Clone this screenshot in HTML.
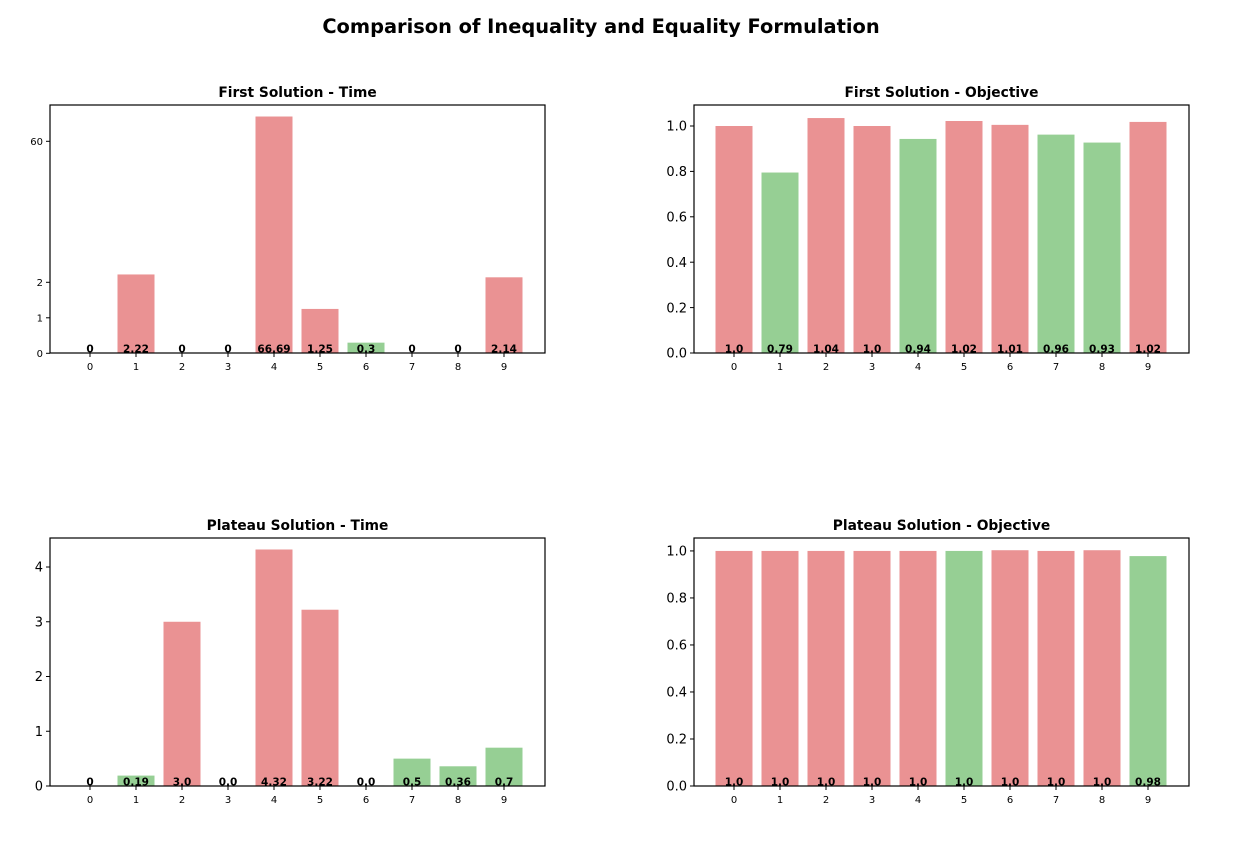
<!DOCTYPE html>
<html><head><meta charset="utf-8"><style>
body{margin:0;background:#fff;}
svg{display:block;font-family:"DejaVu Sans","Liberation Sans",sans-serif;}
</style></head><body>
<svg id="fig" width="1244" height="851">
<text x="601" y="33" text-anchor="middle" font-size="19.4" font-weight="bold">Comparison of Inequality and Equality Formulation</text>
</svg>
<script>
const categories = [0,1,2,3,4,5,6,7,8,9];
const tlValues = [0,2.22,0,0,66.69,1.25,0.3,0,0,2.14];
const tlLabels = ["0","2.22","0","0","66.69","1.25","0.3","0","0","2.14"];
const tlGreen = [0,0,0,0,0,0,1,0,0,0];
const trValues = [1.0,0.795,1.035,1.0,0.943,1.022,1.005,0.962,0.927,1.018];
const trLabels = ["1.0","0.79","1.04","1.0","0.94","1.02","1.01","0.96","0.93","1.02"];
const trGreen = [0,1,0,0,1,0,0,1,1,0];
const blValues = [0,0.19,3.0,0.0,4.32,3.22,0.01,0.5,0.36,0.7];
const blLabels = ["0","0.19","3.0","0.0","4.32","3.22","0.0","0.5","0.36","0.7"];
const blGreen = [0,1,0,0,0,0,1,1,1,1];
const brValues = [1.0,1.0,1.0,1.0,1.0,1.0,1.003,1.0,1.003,0.978];
const brLabels = ["1.0","1.0","1.0","1.0","1.0","1.0","1.0","1.0","1.0","0.98"];
const brGreen = [0,0,0,0,0,1,0,0,0,1];
const tlTicks = [0,1,2,60];
const trTicks = [0,0.2,0.4,0.6,0.8,1.0];
const blTicks = [0,1,2,3,4];
const brTicks = [0,0.2,0.4,0.6,0.8,1.0];

const NS="http://www.w3.org/2000/svg";
const svg=document.getElementById('fig');
function mk(tag,attrs,parent){const e=document.createElementNS(NS,tag);for(const k in attrs)e.setAttribute(k,attrs[k]);(parent||svg).appendChild(e);return e;}

function panel(p){
  const g=mk('g',{});
  
  
  const L=p.left,R=p.left+495,T=p.top,B=p.top+248;
  const xs=i=>L+40+i*46;
  const t=mk('text',{x:(L+R)/2,y:T-8,'text-anchor':'middle','font-size':13.8,'font-weight':'bold'},g);
  t.textContent=p.title;
  
  
  categories.forEach((c,i)=>{
    const v=p.values[i];
    const yv=p.y(v);
    const r=mk('rect',{x:xs(i)-18.5,y:Math.min(yv,B),width:37,height:Math.max(B-yv,0),fill:p.green[i]?'#96cf94':'#ea9293'},g);
    
    
  });
  const frame=mk('rect',{x:L,y:T,width:495,height:248,fill:'none',stroke:'#000','stroke-width':1.2},g);
  
  
  categories.forEach((c,i)=>{
    mk('line',{x1:xs(i),x2:xs(i),y1:B,y2:B+4,stroke:'#000'},g);
    const tx=mk('text',{x:xs(i),y:B+17,'text-anchor':'middle','font-size':10},g);
    tx.textContent=c;
    
    
    const lb=mk('text',{x:xs(i),y:B-0.5,'text-anchor':'middle','font-size':10.5,'font-weight':'bold'},g);
    lb.textContent=p.labels[i];
    
    
  });
  p.ticks.forEach(tv=>{
    const y=p.y(tv);
    mk('line',{x1:L-4,x2:L,y1:y,y2:y,stroke:'#000'},g);
    const ty=mk('text',{x:L-7,y:y+p.fs*0.36,'text-anchor':'end','font-size':p.fs},g);
    ty.textContent=p.fmt(tv);
    
    
  });
}
function lin(v0,max,B,T){return v=>B-(v-v0)/(max-v0)*(B-T);}
function piece(d,r){return v=>{for(let i=0;i<d.length-1;i++){if(v<=d[i+1]||i==d.length-2){return r[i]+(v-d[i])/(d[i+1]-d[i])*(r[i+1]-r[i]);}}};}

panel({name:'first-solution-time',title:'First Solution - Time',left:50,top:105,values:tlValues,labels:tlLabels,green:tlGreen,ticks:tlTicks,fs:10,fmt:v=>String(v),
  y:piece([0,2,2.3,60,69.8],[353.3,282.3,271.6,141.3,105])});
panel({name:'first-solution-objective',title:'First Solution - Objective',left:694,top:105,values:trValues,labels:trLabels,green:trGreen,ticks:trTicks,fs:13,fmt:v=>v.toFixed(1),
  y:lin(0,1.0925,353,105)});
panel({name:'plateau-solution-time',title:'Plateau Solution - Time',left:50,top:538,values:blValues,labels:blLabels,green:blGreen,ticks:blTicks,fs:13,fmt:v=>String(v),
  y:lin(0,4.53,786,538)});
panel({name:'plateau-solution-objective',title:'Plateau Solution - Objective',left:694,top:538,values:brValues,labels:brLabels,green:brGreen,ticks:brTicks,fs:13,fmt:v=>v.toFixed(1),
  y:lin(0,1.055,786,538)});
</script>
</body></html>
